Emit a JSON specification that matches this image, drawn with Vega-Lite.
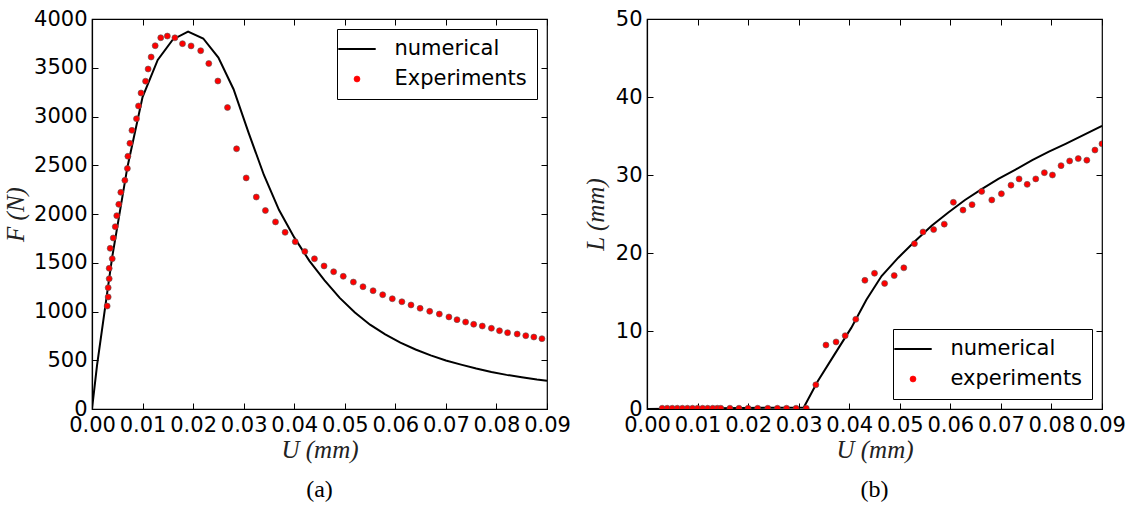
{
  "$schema": "https://vega.github.io/schema/vega-lite/v6.json",
  "padding": {"left": 2, "top": 7, "right": 5, "bottom": 5},
  "background": "white",
  "bounds": "flush",
  "spacing": 100,
  "resolve": {"scale": {"color": "independent", "shape": "independent", "size": "independent"}, "legend": {"color": "independent", "shape": "independent", "size": "independent"}},
  "config": {
    "view": {"stroke": "black", "strokeWidth": 1.2},
    "axis": {"grid": false, "domainColor": "black", "domainWidth": 1.2, "tickColor": "black", "tickWidth": 1, "tickSize": -6, "labelPadding": 11, "labelFont": "DejaVu Sans", "labelFontSize": 21, "labelColor": "black", "labelOverlap": false, "labelFlush": false, "titleFont": "Liberation Serif", "titleFontStyle": "italic", "titleFontWeight": "normal", "titleFontSize": 25, "titleColor": "#222222"},
    "legend": {"title": null, "strokeColor": "black", "fillColor": "white", "padding": 9.5, "labelFont": "DejaVu Sans", "labelFontSize": 21, "labelColor": "black", "labelOffset": 27, "rowPadding": 8, "cornerRadius": 0, "offset": 10},
    "title": {"font": "Liberation Serif", "fontSize": 24, "fontWeight": "normal", "color": "black", "orient": "bottom", "offset": 16}
  },
  "datasets": {
    "leftNum": [
      {"U": 0, "F": 0}, {"U": 0.001, "F": 450}, {"U": 0.004, "F": 1560}, {"U": 0.007, "F": 2480}, {"U": 0.010, "F": 3200},
      {"U": 0.013, "F": 3580}, {"U": 0.016, "F": 3790}, {"U": 0.019, "F": 3870}, {"U": 0.022, "F": 3800}, {"U": 0.025, "F": 3605},
      {"U": 0.028, "F": 3280}, {"U": 0.031, "F": 2830}, {"U": 0.034, "F": 2400}, {"U": 0.037, "F": 2040}, {"U": 0.040, "F": 1760},
      {"U": 0.043, "F": 1520}, {"U": 0.046, "F": 1320}, {"U": 0.049, "F": 1140}, {"U": 0.052, "F": 990}, {"U": 0.055, "F": 865},
      {"U": 0.058, "F": 765}, {"U": 0.061, "F": 680}, {"U": 0.064, "F": 610}, {"U": 0.067, "F": 550}, {"U": 0.070, "F": 497},
      {"U": 0.073, "F": 455}, {"U": 0.076, "F": 415}, {"U": 0.079, "F": 380}, {"U": 0.082, "F": 350}, {"U": 0.085, "F": 325},
      {"U": 0.088, "F": 302}, {"U": 0.090, "F": 290}
    ],
    "leftExp": [
      {"U": 0.0030, "F": 1056}, {"U": 0.0032, "F": 1149}, {"U": 0.0032, "F": 1244}, {"U": 0.0034, "F": 1336}, {"U": 0.0034, "F": 1443},
      {"U": 0.0040, "F": 1541}, {"U": 0.0036, "F": 1648}, {"U": 0.0042, "F": 1754}, {"U": 0.0046, "F": 1870}, {"U": 0.0049, "F": 1983},
      {"U": 0.0053, "F": 2099}, {"U": 0.0057, "F": 2222}, {"U": 0.0065, "F": 2345}, {"U": 0.0070, "F": 2467}, {"U": 0.0071, "F": 2592},
      {"U": 0.0075, "F": 2725}, {"U": 0.0079, "F": 2858}, {"U": 0.0088, "F": 2977}, {"U": 0.0092, "F": 3108}, {"U": 0.0097, "F": 3241},
      {"U": 0.0106, "F": 3362}, {"U": 0.0111, "F": 3487}, {"U": 0.0117, "F": 3610}, {"U": 0.0125, "F": 3726}, {"U": 0.0136, "F": 3808},
      {"U": 0.0149, "F": 3825}, {"U": 0.0164, "F": 3807}, {"U": 0.0179, "F": 3747}, {"U": 0.0196, "F": 3724}, {"U": 0.0215, "F": 3675},
      {"U": 0.0231, "F": 3543}, {"U": 0.0249, "F": 3364}, {"U": 0.0268, "F": 3092}, {"U": 0.0286, "F": 2669}, {"U": 0.0305, "F": 2370},
      {"U": 0.0325, "F": 2174}, {"U": 0.0343, "F": 2036}, {"U": 0.0363, "F": 1919}, {"U": 0.0382, "F": 1812}, {"U": 0.0402, "F": 1716},
      {"U": 0.0421, "F": 1615}, {"U": 0.0440, "F": 1541}, {"U": 0.0459, "F": 1467}, {"U": 0.0478, "F": 1408}, {"U": 0.0497, "F": 1361},
      {"U": 0.0517, "F": 1302}, {"U": 0.0536, "F": 1254}, {"U": 0.0556, "F": 1213}, {"U": 0.0575, "F": 1172}, {"U": 0.0594, "F": 1131},
      {"U": 0.0613, "F": 1100}, {"U": 0.0631, "F": 1067}, {"U": 0.0649, "F": 1033}, {"U": 0.0668, "F": 1002}, {"U": 0.0687, "F": 974},
      {"U": 0.0706, "F": 944}, {"U": 0.0722, "F": 916}, {"U": 0.0739, "F": 892}, {"U": 0.0755, "F": 869}, {"U": 0.0772, "F": 851},
      {"U": 0.0790, "F": 828}, {"U": 0.0806, "F": 803}, {"U": 0.0822, "F": 783}, {"U": 0.0841, "F": 769}, {"U": 0.0858, "F": 752},
      {"U": 0.0874, "F": 738}, {"U": 0.0890, "F": 721}
    ],
    "rightNum": [
      {"U": 0, "L": 0}, {"U": 0.031, "L": 0.2}, {"U": 0.0338, "L": 3.6}, {"U": 0.0371, "L": 7.0}, {"U": 0.0404, "L": 10.4},
      {"U": 0.0434, "L": 14.0}, {"U": 0.0464, "L": 17.05}, {"U": 0.0497, "L": 19.4}, {"U": 0.0530, "L": 21.5}, {"U": 0.0563, "L": 23.5},
      {"U": 0.0596, "L": 25.2}, {"U": 0.0629, "L": 26.8}, {"U": 0.0662, "L": 28.2}, {"U": 0.0695, "L": 29.5}, {"U": 0.0729, "L": 30.7},
      {"U": 0.0762, "L": 31.9}, {"U": 0.0795, "L": 33.0}, {"U": 0.0828, "L": 34.0}, {"U": 0.0900, "L": 36.3}
    ],
    "rightExp": [
      {"U": 0.003, "L": 0.1}, {"U": 0.004, "L": 0.1}, {"U": 0.005, "L": 0.1}, {"U": 0.006, "L": 0.1}, {"U": 0.007, "L": 0.1},
      {"U": 0.008, "L": 0.1}, {"U": 0.009, "L": 0.1}, {"U": 0.010, "L": 0.1}, {"U": 0.011, "L": 0.1}, {"U": 0.012, "L": 0.1},
      {"U": 0.013, "L": 0.1}, {"U": 0.0139, "L": 0.1}, {"U": 0.0146, "L": 0.1}, {"U": 0.0164, "L": 0.1}, {"U": 0.0182, "L": 0.1},
      {"U": 0.0200, "L": 0.1}, {"U": 0.0219, "L": 0.1}, {"U": 0.0239, "L": 0.1}, {"U": 0.0258, "L": 0.1}, {"U": 0.0276, "L": 0.1},
      {"U": 0.0295, "L": 0.1}, {"U": 0.0315, "L": 0.1},
      {"U": 0.0334, "L": 3.1}, {"U": 0.0354, "L": 8.2}, {"U": 0.0374, "L": 8.6}, {"U": 0.0392, "L": 9.4}, {"U": 0.0413, "L": 11.5},
      {"U": 0.0431, "L": 16.5}, {"U": 0.0450, "L": 17.4}, {"U": 0.0470, "L": 16.1}, {"U": 0.0489, "L": 17.1}, {"U": 0.0508, "L": 18.1},
      {"U": 0.0529, "L": 21.2}, {"U": 0.0546, "L": 22.7}, {"U": 0.0567, "L": 23.0}, {"U": 0.0588, "L": 23.7}, {"U": 0.0606, "L": 26.5},
      {"U": 0.0625, "L": 25.5}, {"U": 0.0643, "L": 26.2}, {"U": 0.0662, "L": 27.9}, {"U": 0.0682, "L": 26.8}, {"U": 0.0701, "L": 27.6},
      {"U": 0.0720, "L": 28.7}, {"U": 0.0736, "L": 29.5}, {"U": 0.0752, "L": 28.8}, {"U": 0.0769, "L": 29.5}, {"U": 0.0786, "L": 30.3},
      {"U": 0.0802, "L": 30.0}, {"U": 0.0819, "L": 31.2}, {"U": 0.0836, "L": 31.8}, {"U": 0.0853, "L": 32.1}, {"U": 0.0870, "L": 31.9},
      {"U": 0.0886, "L": 33.2}, {"U": 0.0900, "L": 34.0}
    ]
  },
  "hconcat": [
    {
      "width": 455,
      "height": 390,
      "title": {"text": "(a)"},
      "resolve": {"scale": {"x": "independent", "y": "independent"}},
      "layer": [
        {
          "data": {"name": "leftNum"},
          "mark": {"type": "line", "opacity": 0},
          "encoding": {
            "x": {"field": "U", "type": "quantitative", "scale": {"domain": [0, 0.09], "nice": false, "zero": false},
                  "axis": {"orient": "top", "title": null, "labels": false, "domain": false, "values": [0, 0.01, 0.02, 0.03, 0.04, 0.05, 0.06, 0.07, 0.08, 0.09]}},
            "y": {"field": "F", "type": "quantitative", "scale": {"domain": [0, 4000], "nice": false},
                  "axis": {"orient": "right", "title": null, "labels": false, "domain": false, "values": [0, 500, 1000, 1500, 2000, 2500, 3000, 3500, 4000]}}
          }
        },
        {
          "layer": [
            {
              "data": {"name": "leftNum"},
              "mark": {"type": "line", "color": "black", "strokeWidth": 2, "clip": true},
              "encoding": {
                "x": {"field": "U", "type": "quantitative", "scale": {"domain": [0, 0.09], "nice": false, "zero": false},
                      "axis": {"title": "U (mm)", "values": [0, 0.01, 0.02, 0.03, 0.04, 0.05, 0.06, 0.07, 0.08, 0.09], "format": ".2f", "titlePadding": 2}},
                "y": {"field": "F", "type": "quantitative", "scale": {"domain": [0, 4000], "nice": false},
                      "axis": {"title": "F (N)", "values": [0, 500, 1000, 1500, 2000, 2500, 3000, 3500, 4000], "format": "d", "titlePadding": 5}},
                "color": {"datum": "numerical", "type": "nominal", "scale": {"domain": ["numerical", "Experiments"], "range": ["black", "#ff0000"]},
                          "legend": {"orient": "top-right", "encode": {"symbols": {"update": {"stroke": {"signal": "datum.value === 'numerical' ? 'black' : '#555555'"}, "strokeWidth": {"signal": "datum.value === 'numerical' ? 2 : 0.6"}}}}}}
              }
            },
            {
              "data": {"name": "leftExp"},
              "mark": {"type": "point", "filled": true, "stroke": "#555555", "strokeWidth": 0.6, "opacity": 1, "clip": true},
              "encoding": {
                "x": {"field": "U", "type": "quantitative"},
                "y": {"field": "F", "type": "quantitative"},
                "color": {"datum": "Experiments", "type": "nominal", "scale": {"domain": ["numerical", "Experiments"], "range": ["black", "#ff0000"]},
                          "legend": {"orient": "top-right", "encode": {"symbols": {"update": {"stroke": {"signal": "datum.value === 'numerical' ? 'black' : '#555555'"}, "strokeWidth": {"signal": "datum.value === 'numerical' ? 2 : 0.6"}}}}}},
                "shape": {"datum": "Experiments", "type": "nominal", "scale": {"domain": ["numerical", "Experiments"], "range": ["stroke", "circle"]},
                          "legend": {"orient": "top-right"}},
                "size": {"datum": "Experiments", "type": "nominal", "scale": {"type": "ordinal", "domain": ["numerical", "Experiments"], "range": [1400, 36]},
                         "legend": {"orient": "top-right"}}
              }
            }
          ]
        }
      ]
    },
    {
      "width": 455,
      "height": 390,
      "title": {"text": "(b)"},
      "resolve": {"scale": {"x": "independent", "y": "independent"}},
      "layer": [
        {
          "data": {"name": "rightNum"},
          "mark": {"type": "line", "opacity": 0},
          "encoding": {
            "x": {"field": "U", "type": "quantitative", "scale": {"domain": [0, 0.09], "nice": false, "zero": false},
                  "axis": {"orient": "top", "title": null, "labels": false, "domain": false, "values": [0, 0.01, 0.02, 0.03, 0.04, 0.05, 0.06, 0.07, 0.08, 0.09]}},
            "y": {"field": "L", "type": "quantitative", "scale": {"domain": [0, 50], "nice": false},
                  "axis": {"orient": "right", "title": null, "labels": false, "domain": false, "values": [0, 10, 20, 30, 40, 50]}}
          }
        },
        {
          "layer": [
            {
              "data": {"name": "rightNum"},
              "mark": {"type": "line", "color": "black", "strokeWidth": 2, "clip": true},
              "encoding": {
                "x": {"field": "U", "type": "quantitative", "scale": {"domain": [0, 0.09], "nice": false, "zero": false},
                      "axis": {"title": "U (mm)", "values": [0, 0.01, 0.02, 0.03, 0.04, 0.05, 0.06, 0.07, 0.08, 0.09], "format": ".2f", "titlePadding": 2}},
                "y": {"field": "L", "type": "quantitative", "scale": {"domain": [0, 50], "nice": false},
                      "axis": {"title": "L (mm)", "values": [0, 10, 20, 30, 40, 50], "format": "d", "titlePadding": 7}},
                "color": {"datum": "numerical", "type": "nominal", "scale": {"domain": ["numerical", "experiments"], "range": ["black", "#ff0000"]},
                          "legend": {"orient": "bottom-right", "encode": {"symbols": {"update": {"stroke": {"signal": "datum.value === 'numerical' ? 'black' : '#555555'"}, "strokeWidth": {"signal": "datum.value === 'numerical' ? 2 : 0.6"}}}}}}
              }
            },
            {
              "data": {"name": "rightExp"},
              "mark": {"type": "point", "filled": true, "stroke": "#555555", "strokeWidth": 0.6, "opacity": 1, "clip": true},
              "encoding": {
                "x": {"field": "U", "type": "quantitative"},
                "y": {"field": "L", "type": "quantitative"},
                "color": {"datum": "experiments", "type": "nominal", "scale": {"domain": ["numerical", "experiments"], "range": ["black", "#ff0000"]},
                          "legend": {"orient": "bottom-right", "encode": {"symbols": {"update": {"stroke": {"signal": "datum.value === 'numerical' ? 'black' : '#555555'"}, "strokeWidth": {"signal": "datum.value === 'numerical' ? 2 : 0.6"}}}}}},
                "shape": {"datum": "experiments", "type": "nominal", "scale": {"domain": ["numerical", "experiments"], "range": ["stroke", "circle"]},
                          "legend": {"orient": "bottom-right"}},
                "size": {"datum": "experiments", "type": "nominal", "scale": {"type": "ordinal", "domain": ["numerical", "experiments"], "range": [1400, 36]},
                         "legend": {"orient": "bottom-right"}}
              }
            }
          ]
        }
      ]
    }
  ]
}
